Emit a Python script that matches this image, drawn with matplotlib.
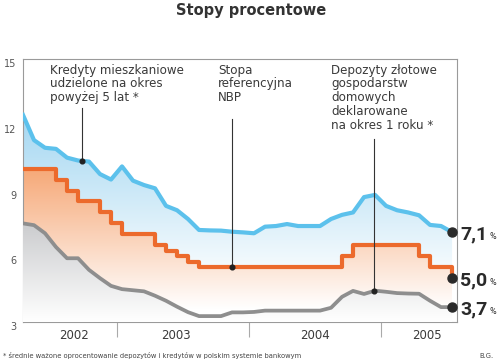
import numpy as np
import matplotlib
matplotlib.use('Agg')
import matplotlib.pyplot as plt
from matplotlib.colors import to_rgb

# monthly points, Apr 2002 .. Jul 2005
months = np.arange(40)
blue = [12.45, 11.3, 10.95, 10.9, 10.5, 10.37, 10.32, 9.75, 9.5, 10.1,
        9.45, 9.25, 9.1, 8.3, 8.1, 7.7, 7.2, 7.18, 7.17, 7.12,
        7.09, 7.05, 7.35, 7.38, 7.47, 7.38, 7.38, 7.38, 7.7, 7.89,
        8.0, 8.7, 8.8, 8.3, 8.1, 8.0, 7.87, 7.43, 7.38, 7.1]
orange = [10.0, 10.0, 10.0, 9.5, 9.0, 8.5, 8.5, 8.0, 7.5, 7.0,
          7.0, 7.0, 6.5, 6.25, 6.0, 5.75, 5.5, 5.5, 5.5, 5.5,
          5.5, 5.5, 5.5, 5.5, 5.5, 5.5, 5.5, 5.5, 5.5, 6.0,
          6.5, 6.5, 6.5, 6.5, 6.5, 6.5, 6.0, 5.5, 5.5, 5.0]
grey = [7.5, 7.42, 7.05, 6.42, 5.91, 5.91, 5.38, 5.0, 4.65, 4.5,
        4.45, 4.4, 4.2, 3.97, 3.7, 3.45, 3.27, 3.27, 3.27, 3.44,
        3.44, 3.46, 3.52, 3.52, 3.52, 3.52, 3.52, 3.52, 3.65, 4.15,
        4.42, 4.28, 4.43, 4.38, 4.32, 4.3, 4.29, 3.97, 3.68, 3.68]

end_labels = ['7,1', '5,0', '3,7']
years = ['2002', '2003', '2004', '2005']
year_pos = [4.6, 13.9, 26.5, 36.7]
year_breaks = [8.5, 20.5, 32.5]
yticks = [3, 6, 9, 12, 15]

c_blue = '#5cc1ec'
c_orange = '#ec6a2c'
c_grey = '#8e8e8e'
c_text = '#3a3a3a'


def grad_fill(ax, x, y, color, top, bottom, z, step=None):
    poly = ax.fill_between(x, y, 3, facecolor='none', edgecolor='none', step=step)
    n = 256
    t = np.linspace(0, 1, n)[:, None]  # 0 bottom -> 1 top
    c = np.array(to_rgb(color))
    img = (1 - t) * np.ones(3) + t * c
    img = img[:, None, :].repeat(2, axis=1)
    im = ax.imshow(img, extent=[x[0], x[-1], bottom, top], origin='lower',
                   aspect='auto', zorder=z, interpolation='bilinear')
    im.set_clip_path(poly.get_paths()[0], transform=ax.transData)


fig = plt.figure(figsize=(5, 3.63), dpi=100)
ax = fig.add_axes([0.046, 0.1129, 0.868, 0.7245])

grad_fill(ax, months, blue, '#a2d6f1', 12.6, 4.6, 1)
grad_fill(ax, months, orange, '#f6a877', 10.0, 3.6, 2, step='post')
grad_fill(ax, months, grey, '#cbccce', 7.5, 3.0, 3)

ax.plot(months, blue, color=c_blue, lw=3.0, solid_joinstyle='round', zorder=4)
ax.plot(months, orange, color=c_orange, lw=3.0, drawstyle='steps-post', zorder=4)
ax.plot(months, grey, color=c_grey, lw=2.7, solid_joinstyle='round', zorder=4)

ax.set_xlim(0, 39.45)
ax.set_ylim(3, 15)

for s in ax.spines.values():
    s.set_color('#9a9a9a')
    s.set_linewidth(0.8)

ax.set_yticks(yticks)
ax.set_yticklabels([str(v) for v in yticks])
ax.tick_params(axis='y', length=0, pad=4.5, labelsize=7, labelcolor='#555555')
for lab in ax.get_yticklabels():
    lab.set_va('top')

ax.set_xticks(year_breaks)
ax.set_xticklabels([])
ax.tick_params(axis='x', which='major', length=11, width=0.8, color='#aaaaaa', direction='out')
ax.set_xticks(year_pos, minor=True)
ax.set_xticklabels(years, minor=True)
ax.tick_params(axis='x', which='minor', length=0, pad=5, labelsize=8.5, labelcolor=c_text)

# annotations
notes = [
    ('Kredyty mieszkaniowe\nudzielone na okres\npowyżej 5 lat *', 0.062, 5.36, 12.75, blue),
    ('Stopa\nreferencyjna\nNBP', 0.449, 19.03, 12.25, orange),
    ('Depozyty złotowe\ngospodarstw\ndomowych\ndeklarowane\nna okres 1 roku *', 0.7097, 31.94, 11.35, grey),
]
for txt, tx, lx, ltop, series in notes:
    ax.text(tx, 0.982, txt, transform=ax.transAxes, ha='left', va='top',
            fontsize=8.6, color=c_text, linespacing=1.07, zorder=6)
    ly = np.interp(lx, months, series) if series is not orange else series[int(lx)]
    ax.plot([lx, lx], [ltop, ly], color='#333333', lw=0.8, zorder=5)
    ax.plot(lx, ly, 'o', color='#222222', ms=3.4, zorder=6)

for series, lab in zip([blue, orange, grey], end_labels):
    ax.plot(months[-1], series[-1], 'o', color='#2a2a2a', ms=6.5, zorder=6, clip_on=False)
    ax.annotate(lab, xy=(months[-1], series[-1]), xytext=(8, -7), textcoords='offset pixels',
                ha='left', va='baseline', fontsize=14, fontweight='bold', family='Roboto',
                color='#2a2a2a', annotation_clip=False)
    ax.annotate('%', xy=(months[-1], series[-1]), xytext=(37, -7), textcoords='offset pixels',
                ha='left', va='baseline', fontsize=6.5, family='Roboto',
                color='#2a2a2a', annotation_clip=False)

fig.text(0.502, 1 - 15 / 363, 'Stopy procentowe', ha='center', va='baseline',
         fontsize=10.5, fontweight='bold', color='#333333')
fig.text(0.006, 1 - 358 / 363, '* średnie ważone oprocentowanie depozytów i kredytów w polskim systemie bankowym',
         ha='left', va='baseline', fontsize=4.9, color='#444444')
fig.text(0.986, 1 - 358 / 363, 'B.G.', ha='right', va='baseline', fontsize=4.9, color='#444444')

fig.savefig('out.png', dpi=100)
